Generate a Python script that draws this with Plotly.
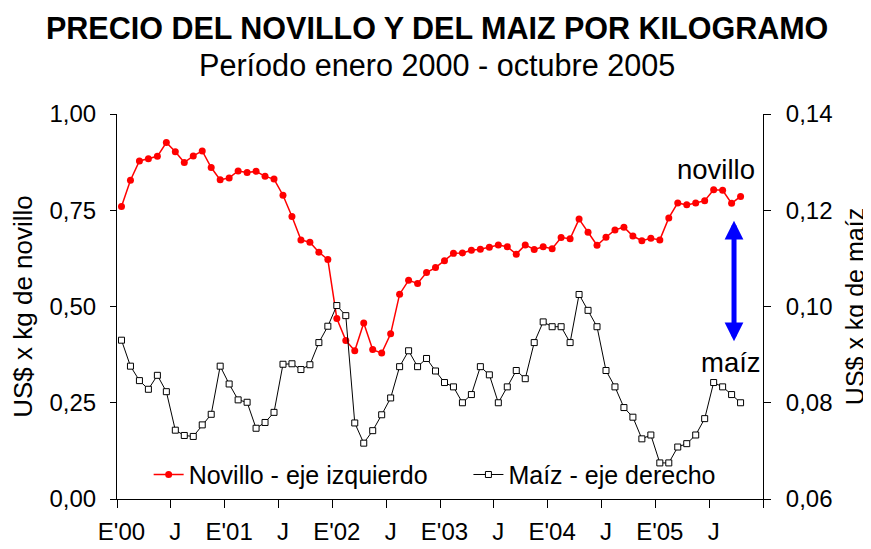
import plotly.graph_objects as go

# Months Jan 2000 .. Oct 2005
meses = [f"{y}-{m:02d}" for y in range(2000, 2006) for m in range(1, 13)][:70]

novillo = [0.760, 0.828, 0.878, 0.884, 0.890, 0.926, 0.902, 0.874, 0.891, 0.904, 0.861, 0.829,
           0.834, 0.852, 0.848, 0.851, 0.838, 0.831, 0.789, 0.734, 0.673, 0.667, 0.641, 0.622,
           0.469, 0.412, 0.385, 0.457, 0.388, 0.379, 0.429, 0.532, 0.568, 0.560, 0.588, 0.601,
           0.619, 0.638, 0.639, 0.646, 0.649, 0.654, 0.660, 0.655, 0.636, 0.660, 0.648, 0.655,
           0.650, 0.679, 0.676, 0.727, 0.693, 0.659, 0.680, 0.699, 0.706, 0.683, 0.671, 0.677,
           0.673, 0.730, 0.769, 0.764, 0.769, 0.775, 0.803, 0.802, 0.768, 0.786]

maiz = [0.0930, 0.0876, 0.0846, 0.0828, 0.0857, 0.0823, 0.0743, 0.0732, 0.0730, 0.0754, 0.0776, 0.0876,
        0.0839, 0.0806, 0.0801, 0.0747, 0.0759, 0.0780, 0.0880, 0.0881, 0.0869, 0.0879, 0.0925, 0.0959,
        0.1002, 0.0981, 0.0758, 0.0716, 0.0742, 0.0775, 0.0810, 0.0875, 0.0908, 0.0875, 0.0892, 0.0866,
        0.0842, 0.0833, 0.0800, 0.0817, 0.0875, 0.0858, 0.0800, 0.0833, 0.0867, 0.0850, 0.0925, 0.0968,
        0.0958, 0.0958, 0.0925, 0.1025, 0.0992, 0.0958, 0.0867, 0.0833, 0.0790, 0.0770, 0.0725, 0.0733,
        0.0675, 0.0675, 0.0708, 0.0715, 0.0733, 0.0767, 0.0842, 0.0833, 0.0817, 0.0800]

tick_pos = list(range(0, 72, 6))
tick_labels = ["E'00", "J", "E'01", "J", "E'02", "J", "E'03", "J", "E'04", "J", "E'05", "J"]

x = list(range(len(meses)))
FONT = "Liberation Sans, Arial, sans-serif"

fig = go.Figure()
fig.add_trace(go.Scatter(
    x=x, y=novillo, name="Novillo - eje izquierdo", mode="lines+markers",
    line=dict(color="#ff0000", width=1.5),
    marker=dict(symbol="circle", size=7, color="#ff0000"),
    yaxis="y", legend="legend"))
fig.add_trace(go.Scatter(
    x=x, y=maiz, name="Maíz - eje derecho", mode="lines+markers",
    line=dict(color="#000000", width=1),
    marker=dict(symbol="square", size=6, color="white", line=dict(color="black", width=1)),
    yaxis="y2", legend="legend2"))

# The page body has an 8px margin, so the figure is drawn 8px smaller and offset.
fig.update_layout(
    width=863, height=541,
    margin=dict(l=109, r=108, t=106, b=50, autoexpand=False),
    paper_bgcolor="white", plot_bgcolor="white",
    separators=",.",
    font=dict(family=FONT, color="black", size=24),
    xaxis=dict(
        range=[-0.5, 71.5], tickmode="array", tickvals=tick_pos, ticktext=tick_labels,
        ticks="", showgrid=False, zeroline=False, showline=True, linecolor="black", linewidth=1,
        tickfont=dict(size=24), ticklabelstandoff=11, automargin=False,
        minor=dict(tickmode="linear", tick0=-0.5, dtick=6, ticks="outside", ticklen=8,
                   tickcolor="black", tickwidth=1, showgrid=False),
    ),
    yaxis=dict(
        range=[0, 1], dtick=0.25, tickformat=".2f", ticks="outside", ticklen=6,
        tickcolor="black", showgrid=False, zeroline=False, showline=True, linecolor="black",
        tickfont=dict(size=24), ticklabelstandoff=9, automargin=False,
        title=dict(text="US$ x kg de novillo", font=dict(size=26), standoff=9),
    ),
    yaxis2=dict(
        range=[0.06, 0.14], dtick=0.02, tickformat=".2f", ticks="outside", ticklen=7,
        tickcolor="black", showgrid=False, zeroline=False, showline=True, linecolor="black",
        overlaying="y", side="right", tickfont=dict(size=24), ticklabelstandoff=10,
        automargin=False,
        title=dict(text="US$ x kg de maíz", font=dict(size=25), standoff=14),
    ),
    legend=dict(x=0.049, y=0.063, xanchor="left", yanchor="middle", orientation="h",
                bgcolor="rgba(0,0,0,0)", font=dict(size=25)),
    legend2=dict(x=0.544, y=0.063, xanchor="left", yanchor="middle", orientation="h",
                 bgcolor="rgba(0,0,0,0)", font=dict(size=25)),
    showlegend=True,
)

# Titles
fig.add_annotation(text="<b>PRECIO DEL NOVILLO Y DEL MAIZ POR KILOGRAMO</b>",
                   xref="paper", yref="paper", x=0.495, y=1.224, xanchor="center", yanchor="middle",
                   showarrow=False, font=dict(size=30.5, family=FONT))
fig.add_annotation(text="Período enero 2000 - octubre 2005",
                   xref="paper", yref="paper", x=0.495, y=1.128, xanchor="center", yanchor="middle",
                   showarrow=False, font=dict(size=30.6, family=FONT))

# Series labels
fig.add_annotation(text="novillo", xref="paper", yref="paper", x=0.927, y=0.855,
                   xanchor="center", yanchor="middle", showarrow=False, font=dict(size=27.5))
fig.add_annotation(text="maíz", xref="paper", yref="paper", x=0.950, y=0.355,
                   xanchor="center", yanchor="middle", showarrow=False, font=dict(size=27.5))

# Double-headed blue arrow
fig.add_annotation(text="", x=68.27, y=0.723, xref="x", yref="y", ax=0, ay=122,
                   showarrow=True, arrowside="end+start", arrowhead=2, startarrowhead=2,
                   arrowsize=0.75, startarrowsize=0.75, arrowwidth=5, arrowcolor="#0000ff",
                   standoff=0, startstandoff=0)

fig.write_html("out.html")
